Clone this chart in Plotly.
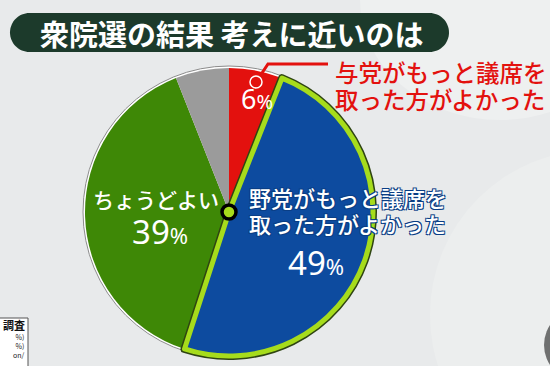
import plotly.graph_objects as go

# ---- data ----
categories = ["与党がもっと議席を取った方がよかった", "野党がもっと議席を取った方がよかった", "ちょうどよい", "その他・わからない"]
values = [6, 49, 39, 6]
colors = ["#e3110e", "#0d4b9f", "#3e8806", "#9b9b9b"]
title_text = "衆院選の結果 考えに近いのは"
red_label = ["与党がもっと議席を", "取った方がよかった"]
blue_label = ["野党がもっと議席を", "取った方がよかった"]
green_label = "ちょうどよい"

W, H = 550, 366
CX, CY, R = 229, 212, 144

def px(x):
    return x / W

def py(y):
    return 1 - y / H

JP = "Noto Sans CJK JP"
NUM = "Noto Sans"

fig = go.Figure()

dom = dict(x=[px(CX - R), px(CX + R)], y=[py(CY + R), py(CY - R)])
blue_idx = 1
trans = "rgba(0,0,0,0)"

# base pie
fig.add_trace(go.Pie(
    labels=categories, values=values, sort=False, direction="clockwise", rotation=0,
    marker=dict(colors=colors, line=dict(width=0)),
    textinfo="none", hoverinfo="label+percent", domain=dom, showlegend=False,
))
# dark outline for the highlighted slice
fig.add_trace(go.Pie(
    labels=categories, values=values, sort=False, direction="clockwise", rotation=0,
    marker=dict(colors=[trans if i != blue_idx else colors[i] for i in range(len(values))],
                line=dict(width=[0 if i != blue_idx else 8 for i in range(len(values))],
                          color="#2f4512")),
    textinfo="none", hoverinfo="skip", domain=dom, showlegend=False,
))
# yellow-green border for the highlighted slice
fig.add_trace(go.Pie(
    labels=categories, values=values, sort=False, direction="clockwise", rotation=0,
    marker=dict(colors=[trans if i != blue_idx else colors[i] for i in range(len(values))],
                line=dict(width=[0 if i != blue_idx else 5 for i in range(len(values))],
                          color="#a6dc1c")),
    textinfo="none", hoverinfo="skip", domain=dom, showlegend=False,
))

shapes = []
# subtle background circles
shapes.append(dict(type="circle", xref="x", yref="y", x0=360, x1=640, y0=-120, y1=120,
                   fillcolor="#eef0f0", line=dict(width=0), layer="below"))
shapes.append(dict(type="circle", xref="x", yref="y", x0=430, x1=760, y0=150, y1=480,
                   fillcolor="#eceeee", line=dict(width=0), layer="below"))
shapes.append(dict(type="circle", xref="x", yref="y", x0=544, x1=616, y0=309, y1=381,
                   fillcolor="#6f7070", line=dict(width=0), layer="below"))
# outer ring of the pie
shapes.append(dict(type="circle", xref="x", yref="y", x0=CX - R - 2, x1=CX + R + 2,
                   y0=CY - R - 2, y1=CY + R + 2, fillcolor="white",
                   line=dict(color="#8c8c8c", width=1), layer="below"))
# title box (rounded)
x0, x1, y0, y1 = 10, 449, 13, 52
r = (y1 - y0) / 2
k = 0.5523 * r
path = (f"M {x0 + r},{y0} L {x1 - r},{y0} "
        f"C {x1 - r + k},{y0} {x1},{y0 + r - k} {x1},{y0 + r} "
        f"C {x1},{y0 + r + k} {x1 - r + k},{y1} {x1 - r},{y1} "
        f"L {x0 + r},{y1} "
        f"C {x0 + r - k},{y1} {x0},{y0 + r + k} {x0},{y0 + r} "
        f"C {x0},{y0 + r - k} {x0 + r - k},{y0} {x0 + r},{y0} Z")
shapes.append(dict(type="path", xref="x", yref="y", path=path, fillcolor="#1c3a2b",
                   line=dict(width=0)))
# red leader line
shapes.append(dict(type="path", xref="x", yref="y", path="M 256,82 L 268,64 L 328,64",
                   line=dict(color="#e3110e", width=3)))
shapes.append(dict(type="circle", xref="x", yref="y", x0=250, x1=262, y0=76, y1=88,
                   fillcolor="#e3110e", line=dict(color="white", width=1.5)))
# center dot
shapes.append(dict(type="circle", xref="x", yref="y", x0=CX - 7, x1=CX + 7, y0=CY - 7, y1=CY + 7,
                   fillcolor="#a6dc1c", line=dict(color="black", width=3.5)))
# source box at bottom-left (cut off)
shapes.append(dict(type="rect", xref="x", yref="y", x0=-5, x1=28, y0=318, y1=370,
                   fillcolor="white", line=dict(color="#555", width=1)))

ann = []
def A(x, y, text, size, color="white", font=JP, xanchor="center", weight="normal", shadow=None, align="center"):
    d = dict(x=x, y=y, xref="x", yref="y", text=text, showarrow=False, xanchor=xanchor,
             yanchor="middle", align=align,
             font=dict(family=font, size=size, color=color, weight=weight))
    if shadow:
        d["font"]["shadow"] = shadow
    ann.append(d)

A(232, 33, title_text, 29, weight="bold")
A(333, 72, red_label[0], 23.5, color="#e3110e", xanchor="left", weight=500)
A(333, 99, red_label[1], 23.5, color="#e3110e", xanchor="left", weight=500)
A(257, 98, "6<span style='font-size:20px'>%</span>", 27, font=NUM)
A(156, 199, green_label, 21, weight=500)
A(160, 231, "39<span style='font-size:22px'>%</span>", 33, font=NUM)
outline = "1px 1px 0 #0a3e85, -1px -1px 0 #0a3e85, 1px -1px 0 #0a3e85, -1px 1px 0 #0a3e85"
A(247, 197, blue_label[0], 22, xanchor="left", shadow=outline, weight=500)
A(247, 223, blue_label[1], 22, xanchor="left", shadow=outline, weight=500)
A(316, 262, "49<span style='font-size:22px'>%</span>", 33, font=NUM)
# source box fragments
A(27, 325, "調査", 11, color="#111", xanchor="right", weight="bold")
A(27, 346, "%)<br>%)<br>on/", 7, color="#222", xanchor="right", align="right")

fig.update_layout(
    width=W, height=H, margin=dict(l=0, r=0, t=0, b=0),
    paper_bgcolor="#e8eaeb", plot_bgcolor="rgba(0,0,0,0)",
    xaxis=dict(range=[0, W], visible=False, fixedrange=True),
    yaxis=dict(range=[H, 0], visible=False, fixedrange=True),
    shapes=shapes, annotations=ann, showlegend=False,
)

fig.write_html("out.html")
